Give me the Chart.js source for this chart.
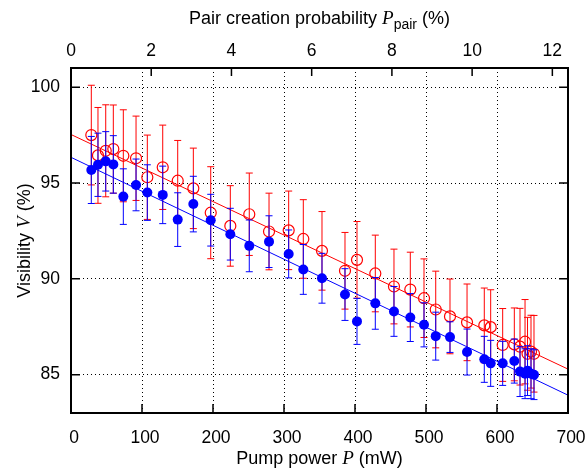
<!DOCTYPE html>
<html>
<head>
<meta charset="utf-8">
<script src="https://cdn.jsdelivr.net/npm/chart.js@4/dist/chart.umd.min.js"></script>
<style>
  html, body { margin: 0; padding: 0; background: #fff; }
  #wrap { width: 587px; height: 468px; }
</style>
</head>
<body>
<div id="wrap"><canvas id="chart" width="587" height="468"></canvas></div>
<script>
// pump power (mW), shared by both series
const pumpPower = [28.6, 38.0, 48.9, 59.6, 73.7, 91.6, 107.5, 129.2, 150.3, 172.3, 196.8, 224.4, 251.1, 278.9, 306.6, 327.2, 353.5, 385.9, 402.8, 428.6, 454.9, 477.9, 497.2, 513.7, 533.8, 557.8, 582.1, 591.1, 608.0, 624.4, 632.4, 639.5, 643.0, 647.9, 652.1];

// open red circles
const visRed = [97.50, 96.44, 96.68, 96.77, 96.42, 96.29, 95.30, 95.82, 95.12, 94.72, 93.45, 92.76, 93.37, 92.47, 92.53, 92.08, 91.46, 90.42, 90.99, 90.28, 89.60, 89.44, 88.99, 88.40, 88.04, 87.73, 87.57, 87.48, 86.55, 86.58, 86.46, 86.72, 86.09, 86.20, 86.09];
const errRed = [2.6, 2.5, 2.4, 2.3, 2.4, 2.2, 2.2, 2.2, 2.1, 2.1, 2.4, 2.1, 2.15, 2.0, 2.05, 2.05, 2.05, 2.0, 2.0, 2.0, 1.95, 1.95, 2.05, 2.0, 1.95, 2.0, 1.95, 1.95, 1.9, 1.9, 2.0, 2.2, 1.9, 1.9, 2.0];

// filled blue circles
const visBlue = [95.68, 95.95, 96.13, 95.97, 94.29, 94.90, 94.50, 94.38, 93.09, 93.90, 93.06, 92.33, 91.72, 91.94, 91.30, 90.49, 90.03, 89.18, 87.78, 88.72, 88.30, 87.98, 87.60, 87.01, 86.96, 86.18, 85.80, 85.59, 85.59, 85.71, 85.16, 85.05, 85.21, 85.05, 85.00];
const errBlue = [1.75, 1.65, 1.55, 1.5, 1.45, 1.35, 1.45, 1.5, 1.4, 1.45, 1.35, 1.35, 1.35, 1.35, 1.25, 1.3, 1.3, 1.35, 1.2, 1.35, 1.3, 1.25, 1.15, 1.25, 0.8, 1.2, 1.2, 1.2, 1.15, 1.15, 1.3, 1.3, 1.3, 1.3, 1.3];

// linear fits
const fitPower = [0, 700];
const fitRed = [97.53, 85.29];
const fitBlue = [96.34, 83.93];

// axis ranges and ticks
const powerRange = [0, 700];
const visRange = [83, 101];
const powerTicks = [0, 100, 200, 300, 400, 500, 600, 700];
const visTicks = [85, 90, 95, 100];
const pairTicks = [0, 2, 4, 6, 8, 10, 12];
const pairLabels = ['0', '2', '4', '6', '8', '10', '12'];
const mwPerPercent = 700 / 12.39;   // top axis: pair probability (%) -> pump power (mW)

const SANS = '"Liberation Sans", Arial, sans-serif';
const SERIF = '"Liberation Serif", "Times New Roman", serif';

const toPoints = (xs, ys) => xs.map((x, i) => ({ x: x, y: ys[i] }));
const fixedTicks = vals => s => { s.ticks = vals.map(v => ({ value: v })); };

// vertical error bars with small caps, drawn just under each dataset's markers
const errorBars = {
    id: 'errorBars',
    beforeDatasetDraw(chart, args) {
        const ds = chart.data.datasets[args.index];
        if (!ds.errors) return;
        const xs = chart.scales.x, ys = chart.scales.y, ctx = chart.ctx;
        ctx.save();
        ctx.strokeStyle = ds.borderColor;
        ctx.lineWidth = 1;
        ds.data.forEach((p, i) => {
            const px = xs.getPixelForValue(p.x);
            const top = ys.getPixelForValue(p.y + ds.errors[i]);
            const bot = ys.getPixelForValue(p.y - ds.errors[i]);
            ctx.beginPath();
            ctx.moveTo(px, top); ctx.lineTo(px, bot);
            ctx.moveTo(px - 3.5, top); ctx.lineTo(px + 3.5, top);
            ctx.moveTo(px - 3.5, bot); ctx.lineTo(px + 3.5, bot);
            ctx.stroke();
        });
        ctx.restore();
    }
};

function drawRuns(ctx, runs, cx, cy) {
    let w = 0;
    runs.forEach(r => { ctx.font = r.f; w += ctx.measureText(r.t).width; });
    let x = cx - w / 2;
    runs.forEach(r => {
        ctx.font = r.f;
        ctx.fillText(r.t, x, cy + (r.dy || 0));
        x += ctx.measureText(r.t).width;
    });
}

// frame, inward tick marks, top-axis labels and axis titles
const frame = {
    id: 'frame',
    afterDraw(chart) {
        const { ctx, chartArea: a, scales } = chart;
        const tl = 9;
        const pairX = v => scales.x.getPixelForValue(v * mwPerPercent);
        ctx.save();
        ctx.strokeStyle = '#000';
        ctx.lineWidth = 1.5;
        ctx.beginPath();
        powerTicks.forEach(v => {
            const px = scales.x.getPixelForValue(v);
            ctx.moveTo(px, a.bottom); ctx.lineTo(px, a.bottom - tl);
        });
        pairTicks.forEach(v => {
            const px = pairX(v);
            ctx.moveTo(px, a.top); ctx.lineTo(px, a.top + tl - 1);
        });
        visTicks.forEach(v => {
            const py = scales.y.getPixelForValue(v);
            ctx.moveTo(a.left, py); ctx.lineTo(a.left + tl, py);
            ctx.moveTo(a.right, py); ctx.lineTo(a.right - tl, py);
        });
        ctx.stroke();
        ctx.lineWidth = 2;
        ctx.strokeRect(a.left, a.top, a.right - a.left, a.bottom - a.top);

        ctx.fillStyle = '#000';
        ctx.textAlign = 'center';
        ctx.textBaseline = 'alphabetic';
        ctx.font = '17.5px ' + SANS;
        for (let i = 0; i < pairTicks.length; i++) {
            ctx.fillText(pairLabels[i], pairX(pairTicks[i]), 56);
        }

        ctx.textAlign = 'left';
        const cx = (a.left + a.right) / 2;
        drawRuns(ctx, [
            { t: 'Pump power ', f: '18px ' + SANS },
            { t: 'P', f: 'italic 19px ' + SERIF },
            { t: ' (mW)', f: '18px ' + SANS }
        ], cx, 464);
        drawRuns(ctx, [
            { t: 'Pair creation probability ', f: '18px ' + SANS },
            { t: 'P', f: 'italic 19px ' + SERIF },
            { t: 'pair', f: '14px ' + SANS, dy: 5 },
            { t: ' (%)', f: '18px ' + SANS }
        ], cx, 24);
        ctx.translate(24, (a.top + a.bottom) / 2);
        ctx.rotate(-Math.PI / 2);
        drawRuns(ctx, [
            { t: 'Visibility ', f: '18px ' + SANS },
            { t: 'V', f: 'italic 19px ' + SERIF },
            { t: ' (%)', f: '18px ' + SANS }
        ], 0, 6);
        ctx.restore();
    }
};

const tickFont = { family: SANS, size: 17.5 };

new Chart(document.getElementById('chart'), {
    type: 'scatter',
    data: {
        datasets: [
            {
                type: 'line', data: toPoints(fitPower, fitRed), borderColor: '#ff0000',
                borderWidth: 1, pointRadius: 0, order: 4
            },
            {
                data: toPoints(pumpPower, visRed), errors: errRed,
                borderColor: '#ff0000', backgroundColor: 'rgba(0,0,0,0)',
                pointRadius: 5.5, borderWidth: 1.2, order: 3
            },
            {
                type: 'line', data: toPoints(fitPower, fitBlue), borderColor: '#0000ff',
                borderWidth: 1, pointRadius: 0, order: 2
            },
            {
                data: toPoints(pumpPower, visBlue), errors: errBlue,
                borderColor: '#0000ff', backgroundColor: '#0000ff',
                pointRadius: 5, borderWidth: 0, order: 1
            }
        ]
    },
    options: {
        responsive: false,
        animation: false,
        devicePixelRatio: 1,
        layout: { padding: { left: 0, right: 19, top: 68, bottom: 0 } },
        plugins: { legend: { display: false }, tooltip: { enabled: false } },
        scales: {
            x: {
                type: 'linear', position: 'bottom',
                min: powerRange[0], max: powerRange[1],
                ticks: { color: '#000', font: tickFont, padding: 15, labelOffset: 3, maxRotation: 0, autoSkip: false },
                afterBuildTicks: fixedTicks(powerTicks),
                grid: { color: '#000', lineWidth: 1, drawTicks: false },
                border: { display: false, dash: [1, 3] },
                afterFit: s => { s.height = 55; s.paddingLeft = 0; s.paddingRight = 0; }
            },
            y: {
                type: 'linear', position: 'left',
                min: visRange[0], max: visRange[1],
                ticks: { color: '#000', font: tickFont, padding: 11, autoSkip: false },
                afterBuildTicks: fixedTicks(visTicks),
                grid: { color: '#000', lineWidth: 1, drawTicks: false },
                border: { display: false, dash: [1, 3] },
                afterFit: s => { s.width = 71; s.paddingTop = 0; s.paddingBottom = 0; }
            }
        }
    },
    plugins: [errorBars, frame]
});
</script>
</body>
</html>
